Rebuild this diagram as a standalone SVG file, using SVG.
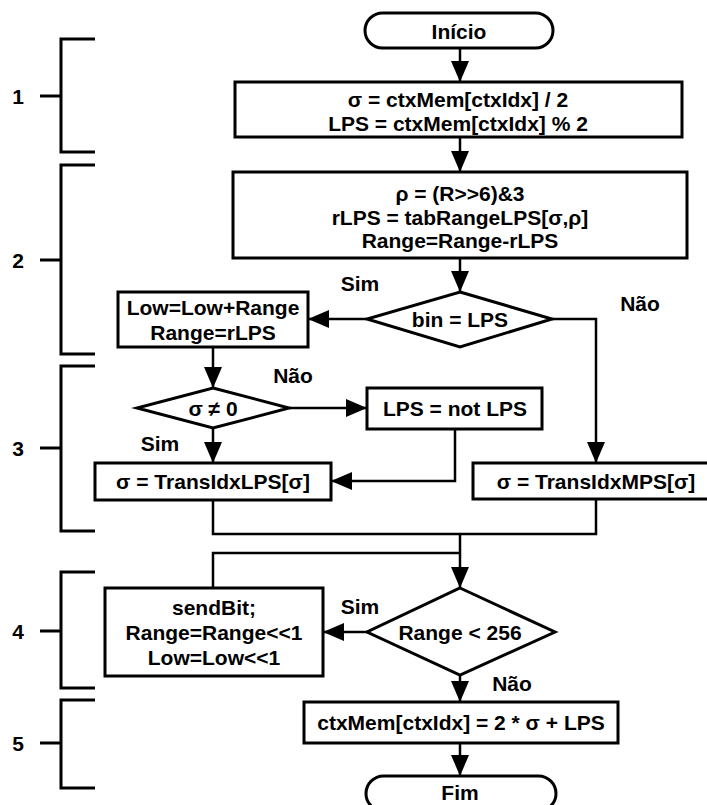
<svg xmlns="http://www.w3.org/2000/svg" width="707" height="805" viewBox="0 0 707 805">
<style>
.b{fill:#fff;stroke:#000;stroke-width:3}
.c{fill:none;stroke:#000;stroke-width:2.5}
.k{fill:none;stroke:#000;stroke-width:3}
text{font-family:"Liberation Sans",Arial,sans-serif;font-weight:bold;font-size:21px;text-anchor:middle;dominant-baseline:central;fill:#000}
</style>
<defs>
<marker id="a" markerUnits="userSpaceOnUse" markerWidth="21" markerHeight="18" refX="21" refY="9" orient="auto">
<path d="M0,0 L21,9 L0,18 Z" fill="#000"/>
</marker>
</defs>
<rect width="707" height="805" fill="#fff"/>
<g id="brackets">
<path class="k" d="M95,39 H61 V152 H95 M40,96 H61"/>
<path class="k" d="M95,165 H61 V354 H95 M40,260 H61"/>
<path class="k" d="M95,366 H61 V531 H95 M40,448 H61"/>
<path class="k" d="M95,572 H61 V688 H95 M40,631 H61"/>
<path class="k" d="M95,700 H61 V788 H95 M40,743 H61"/>
<text x="18" y="96">1</text>
<text x="18" y="260">2</text>
<text x="18" y="448">3</text>
<text x="18" y="631">4</text>
<text x="18" y="743">5</text>
</g>
<g id="connectors">
<path class="c" d="M460,48 V82" marker-end="url(#a)"/>
<path class="c" d="M460,137 V172" marker-end="url(#a)"/>
<path class="c" d="M460,258 V292" marker-end="url(#a)"/>
<path class="c" d="M367,319 H308" marker-end="url(#a)"/>
<path class="c" d="M552,319 H596 V463" marker-end="url(#a)"/>
<path class="c" d="M213,347 V388" marker-end="url(#a)"/>
<path class="c" d="M289,408 H367" marker-end="url(#a)"/>
<path class="c" d="M213,428 V463" marker-end="url(#a)"/>
<path class="c" d="M455,429 V481 H331" marker-end="url(#a)"/>
<path class="c" d="M213,500 V534 H596 V499"/>
<path class="c" d="M213,588 V553 H460"/>
<path class="c" d="M460,534 V588" marker-end="url(#a)"/>
<path class="c" d="M367,632 H323" marker-end="url(#a)"/>
<path class="c" d="M460,675 V702" marker-end="url(#a)"/>
<path class="c" d="M460,743 V776" marker-end="url(#a)"/>
<text x="360" y="283">Sim</text>
<text x="640" y="303">Não</text>
<text x="293" y="375">Não</text>
<text x="160" y="443">Sim</text>
<text x="360" y="606">Sim</text>
<text x="512" y="683">Não</text>
</g>
<g id="inicio">
<rect class="b" x="365" y="13" width="188" height="35" rx="17.5"/>
<text x="459" y="31">Início</text>
</g>
<g id="box1">
<rect class="b" x="235" y="82" width="447" height="55"/>
<text x="458" y="99">σ = ctxMem[ctxIdx] / 2</text>
<text x="458" y="123">LPS = ctxMem[ctxIdx] % 2</text>
</g>
<g id="box2">
<rect class="b" x="233" y="172" width="454" height="86"/>
<text x="460" y="193">ρ = (R&gt;&gt;6)&amp;3</text>
<text x="460" y="217">rLPS = tabRangeLPS[σ,ρ]</text>
<text x="460" y="240">Range=Range-rLPS</text>
</g>
<g id="dec1">
<polygon class="b" points="460,292 552,319 460,347 367,319"/>
<text x="460" y="319">bin = LPS</text>
</g>
<g id="lowbox">
<rect class="b" x="118" y="292" width="190" height="55"/>
<text x="213" y="307">Low=Low+Range</text>
<text x="213" y="332">Range=rLPS</text>
</g>
<g id="dec2">
<polygon class="b" points="213,388 289,408 213,428 137,408"/>
<text x="213" y="408">σ ≠ 0</text>
</g>
<g id="lpsnot">
<rect class="b" x="367" y="388" width="175" height="41"/>
<text x="455" y="408">LPS = not LPS</text>
</g>
<g id="translps">
<rect class="b" x="95" y="463" width="236" height="37"/>
<text x="213" y="481">σ = TransIdxLPS[σ]</text>
</g>
<g id="transmps">
<rect class="b" x="473" y="463" width="246" height="36"/>
<text x="596" y="481">σ = TransIdxMPS[σ]</text>
</g>
<g id="dec3">
<polygon class="b" points="460,588 555,632 460,675 367,632"/>
<text x="460" y="632">Range &lt; 256</text>
</g>
<g id="sendbit">
<rect class="b" x="105" y="588" width="218" height="88"/>
<text x="214" y="607">sendBit;</text>
<text x="214" y="632">Range=Range&lt;&lt;1</text>
<text x="214" y="657">Low=Low&lt;&lt;1</text>
</g>
<g id="ctxmem">
<rect class="b" x="304" y="702" width="314" height="41"/>
<text x="461" y="722">ctxMem[ctxIdx] = 2 * σ + LPS</text>
</g>
<g id="fim">
<rect class="b" x="366" y="776" width="190" height="35" rx="17.5"/>
<text x="460" y="792">Fim</text>
</g>
</svg>
